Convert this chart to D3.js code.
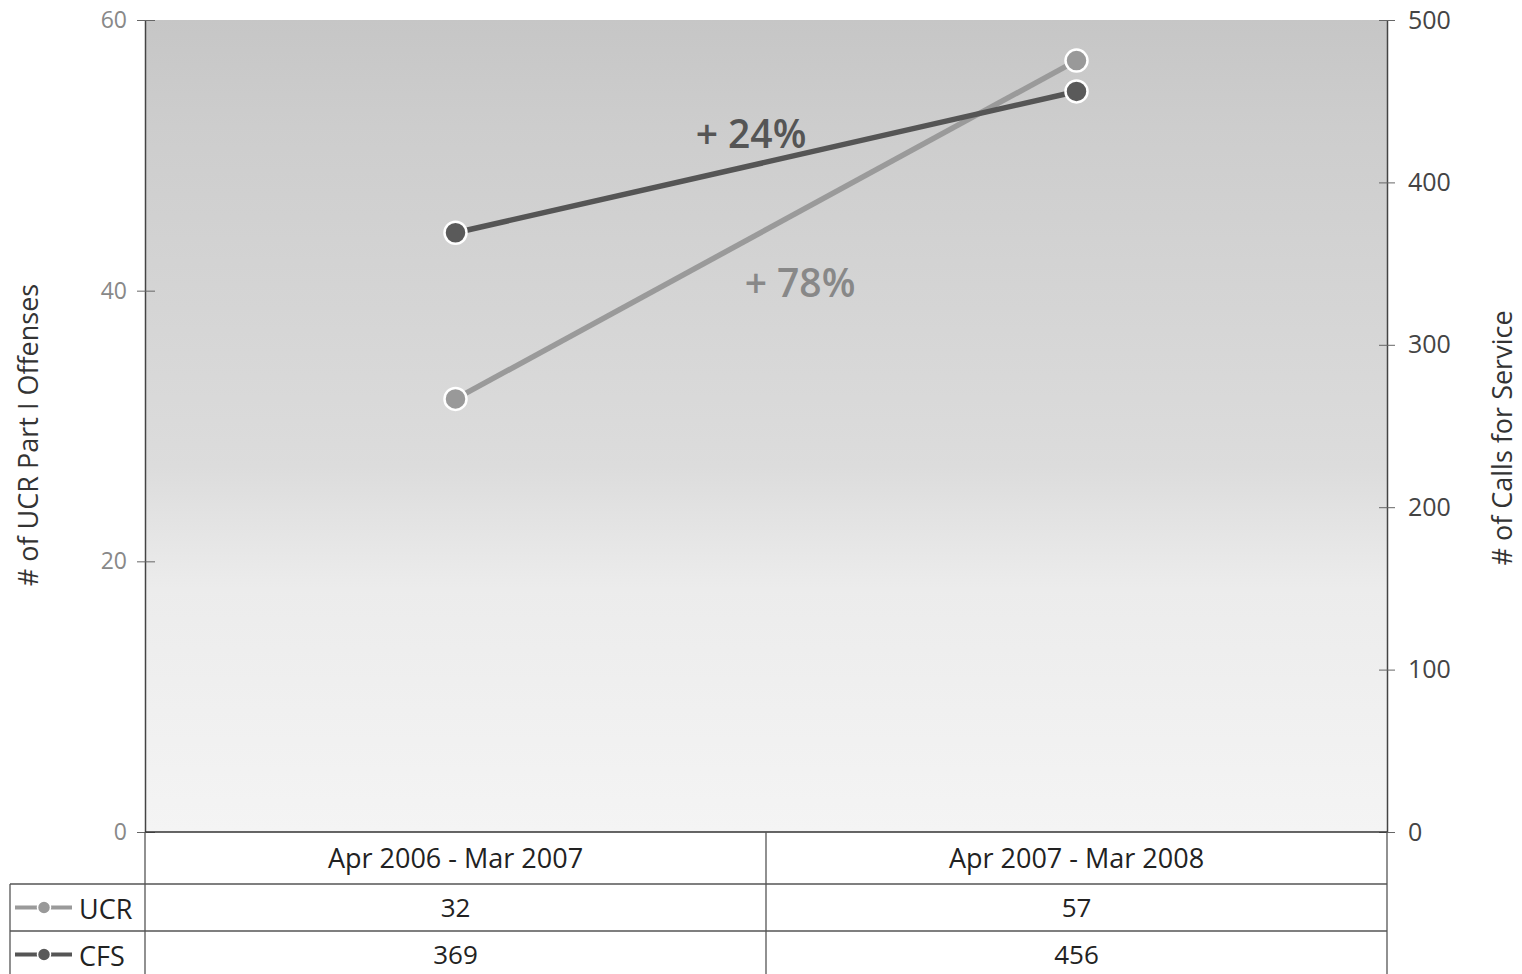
<!DOCTYPE html>
<html>
<head>
<meta charset="utf-8">
<script src="https://cdn.jsdelivr.net/npm/d3@7"></script>
<style>
  body { margin: 0; background: #fff; }
  text { font-family: "Open Sans", "DejaVu Sans", sans-serif; }
</style>
</head>
<body>
<script>
// values
const periods = ['Apr 2006 - Mar 2007', 'Apr 2007 - Mar 2008'];
const ucrValues = [32, 57];
const cfsValues = [369, 456];
const leftTicks = [0, 20, 40, 60];
const rightTicks = [0, 100, 200, 300, 400, 500];
const changeLabels = ['+ 24%', '+ 78%'];

const W = 1522, H = 974;
const plot = { left: 145, right: 1387, top: 20, bottom: 832 };

const svg = d3.select('body').append('svg')
    .attr('width', W)
    .attr('height', H);

const defs = svg.append('defs');
const grad = defs.append('linearGradient')
    .attr('id', 'bg').attr('x1', 0).attr('y1', 0).attr('x2', 0).attr('y2', 1);
grad.append('stop').attr('offset', '0%').attr('stop-color', '#c6c6c6');
grad.append('stop').attr('offset', '13%').attr('stop-color', '#cdcdcd');
grad.append('stop').attr('offset', '55%').attr('stop-color', '#dcdcdc');
grad.append('stop').attr('offset', '70%').attr('stop-color', '#ececec');
grad.append('stop').attr('offset', '100%').attr('stop-color', '#f4f4f4');

const x = d3.scalePoint()
    .domain(periods)
    .range([plot.left, plot.right])
    .padding(0.5);

const yLeft = d3.scaleLinear().domain([0, 60]).range([plot.bottom, plot.top]);
const yRight = d3.scaleLinear().domain([0, 500]).range([plot.bottom, plot.top]);

svg.append('rect')
    .attr('x', plot.left).attr('y', plot.top)
    .attr('width', plot.right - plot.left)
    .attr('height', plot.bottom - plot.top)
    .attr('fill', 'url(#bg)');

// axes
const leftAxis = d3.axisLeft(yLeft).tickValues(leftTicks).tickSizeInner(8).tickSizeOuter(0).tickPadding(10);
const rightAxis = d3.axisRight(yRight).tickValues(rightTicks).tickSizeInner(8).tickSizeOuter(0).tickPadding(13);

const gl = svg.append('g').attr('transform', `translate(${plot.left},0)`).call(leftAxis);
gl.select('.domain').attr('stroke', '#444').attr('stroke-width', 1.5);
gl.selectAll('.tick line').attr('stroke', '#666').attr('x2', 10).attr('x1', -8);
gl.selectAll('.tick text').attr('fill', '#888').style('font-size', '23px').attr('font-family', 'DejaVu Sans');

const gr = svg.append('g').attr('transform', `translate(${plot.right},0)`).call(rightAxis);
gr.select('.domain').attr('stroke', '#444').attr('stroke-width', 1.5);
gr.selectAll('.tick line').attr('stroke', '#666').attr('x1', -8).attr('x2', 8);
gr.selectAll('.tick text').attr('fill', '#444').style('font-size', '25px');

// baseline
svg.append('line')
    .attr('x1', plot.left).attr('x2', plot.right)
    .attr('y1', plot.bottom).attr('y2', plot.bottom)
    .attr('stroke', '#333').attr('stroke-width', 1.5);

// axis titles
svg.append('text')
    .attr('transform', `translate(38,${(plot.top + plot.bottom) / 2 + 9}) rotate(-90)`)
    .attr('text-anchor', 'middle')
    .attr('fill', '#333')
    .style('font-size', '27px')
    .text('# of UCR Part I Offenses');

svg.append('text')
    .attr('transform', `translate(1512,${(plot.top + plot.bottom) / 2 + 12}) rotate(-90)`)
    .attr('text-anchor', 'middle')
    .attr('fill', '#333')
    .style('font-size', '27px')
    .text('# of Calls for Service');

// series
const series = [
    { name: 'UCR', values: ucrValues, y: yLeft, color: '#9a9a9a', dot: '#999' },
    { name: 'CFS', values: cfsValues, y: yRight, color: '#555', dot: '#5a5a5a' }
];

const line = s => d3.line()
    .x((d, i) => x(periods[i]))
    .y(d => s.y(d));

series.forEach(s => {
    svg.append('path')
        .datum(s.values)
        .attr('d', line(s))
        .attr('fill', 'none')
        .attr('stroke', s.color)
        .attr('stroke-width', 5.5);

    svg.selectAll(null).data(s.values)
        .enter().append('circle')
        .attr('cx', (d, i) => x(periods[i]))
        .attr('cy', d => s.y(d))
        .attr('r', 11)
        .attr('fill', s.dot)
        .attr('stroke', '#fff')
        .attr('stroke-width', 2.5);
});

// change annotations
svg.append('text')
    .attr('x', 751).attr('y', 148)
    .attr('text-anchor', 'middle')
    .attr('fill', '#555')
    .style('font-size', '39px')
    .style('font-weight', 600)
    .text(changeLabels[0]);

svg.append('text')
    .attr('x', 800).attr('y', 297)
    .attr('text-anchor', 'middle')
    .attr('fill', '#888')
    .style('font-size', '39px')
    .style('font-weight', 600)
    .text(changeLabels[1]);

// data table
const tableTop = plot.bottom, headerBottom = 884, rowH = 47;
const tableLeft = 10;
const colEdges = [plot.left].concat(periods.map((p, i) => x(p) + x.step() / 2));
const tbl = svg.append('g').attr('stroke', '#555').attr('stroke-width', 1.3);

colEdges.forEach(cx => {
    tbl.append('line').attr('x1', cx).attr('x2', cx).attr('y1', tableTop).attr('y2', H);
});
tbl.append('line').attr('x1', tableLeft).attr('x2', tableLeft).attr('y1', headerBottom).attr('y2', H);
[headerBottom, headerBottom + rowH].forEach(yy => {
    tbl.append('line').attr('x1', tableLeft).attr('x2', colEdges[colEdges.length - 1]).attr('y1', yy).attr('y2', yy);
});

svg.selectAll('.period').data(periods)
    .enter().append('text')
    .attr('class', 'period')
    .attr('x', d => x(d))
    .attr('y', 868)
    .attr('text-anchor', 'middle')
    .attr('fill', '#222')
    .style('font-size', '27px')
    .text(d => d);

series.forEach((s, r) => {
    const cy = headerBottom + rowH * r + rowH / 2;
    svg.append('line')
        .attr('x1', 15).attr('x2', 72).attr('y1', cy).attr('y2', cy)
        .attr('stroke', s.color).attr('stroke-width', 4);
    svg.append('circle')
        .attr('cx', 44).attr('cy', cy).attr('r', 6.5)
        .attr('fill', s.dot).attr('stroke', '#fff').attr('stroke-width', 1.5);
    svg.append('text')
        .attr('x', 79).attr('y', cy + 11)
        .attr('fill', '#222')
        .style('font-size', '27px')
        .text(s.name);
    svg.selectAll(null).data(s.values)
        .enter().append('text')
        .attr('x', (d, i) => x(periods[i]))
        .attr('y', cy + 9)
        .attr('text-anchor', 'middle')
        .attr('fill', '#222')
        .style('font-size', '26px')
        .text(d => d);
});
</script>
</body>
</html>
